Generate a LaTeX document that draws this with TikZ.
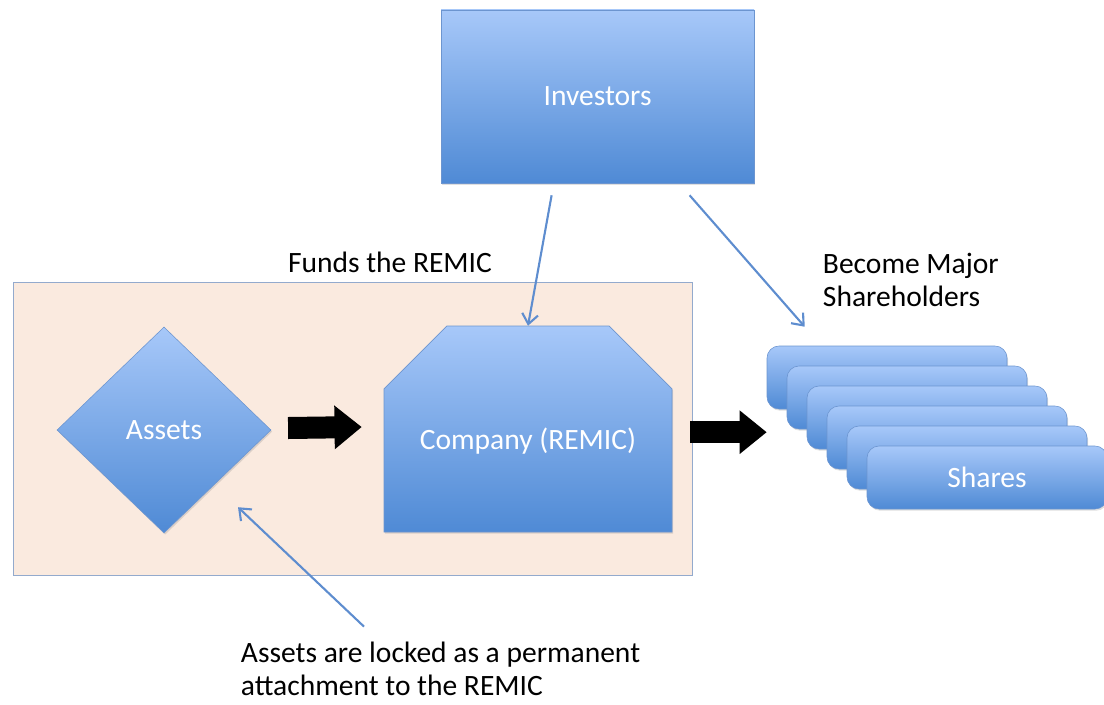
\documentclass[tikz,border=0pt]{standalone}
\usepackage{fontspec}
\setmainfont{Carlito}
\usepackage{tikz}
\usetikzlibrary{shapes.geometric, shapes.misc, arrows.meta, shadows}
\definecolor{boxtop}{HTML}{A7C8F9}
\definecolor{boxbot}{HTML}{4F8AD5}
\definecolor{boxline}{HTML}{6C95D0}
\definecolor{peach}{HTML}{FAEADF}
\definecolor{peachline}{HTML}{93AACD}
\definecolor{linkblue}{HTML}{5E8DCF}
\tikzstyle{bluebox} = [draw=boxline, top color=boxtop, bottom color=boxbot,
    text=white, font=\fontsize{21}{25}\selectfont,
    drop shadow={opacity=0.25, shadow xshift=0.8pt, shadow yshift=-1.2pt}]
\tikzstyle{sharebox} = [bluebox, rectangle, rounded corners=0.3cm,
    minimum width=6cm, minimum height=1.575cm]
\tikzstyle{blockarrow} = [draw=black, line width=0.55cm, -{Triangle[length=0.68cm, width=1.05cm]}]
\tikzstyle{thinarrow} = [draw=linkblue, line width=1.5pt, -{Straight Barb[length=2.5mm, width=4mm]}]
\tikzstyle{note} = [text=black, font=\fontsize{21}{24}\selectfont, align=left]

\begin{document}
\begin{tikzpicture}
    \useasboundingbox (0,0) rectangle (27.6,-17.6);

        % Nodes
        \node (remic) [rectangle, draw=peachline, fill=peach, minimum width=16.98cm,
            minimum height=7.33cm] at (8.81,-10.71) {};
        \node (funds) [note] at (9.75,-6.55) {Funds the REMIC};

        \node (inv) [bluebox, rectangle, minimum width=7.83cm, minimum height=4.33cm]
            at (14.94,-2.41) {Investors};

        \node (assets) [bluebox, diamond, inner sep=0pt, minimum width=5.35cm,
            minimum height=5.15cm] at (4.1,-10.75) {Assets};

        \node (comp) [bluebox, chamfered rectangle, chamfered rectangle corners={north west, north east},
            chamfered rectangle xsep=0.85cm, chamfered rectangle ysep=0.82cm,
            minimum width=7.2cm, minimum height=5.15cm] at (13.2,-10.725)
            {\rule{0pt}{1.15cm}Company (REMIC)};

        \foreach \i in {0,...,4}
            \node (sh\i) [sharebox] at (22.175+0.5*\i,-9.4375-0.5*\i) {};
        \node (sh5) [sharebox] at (24.675,-11.9375) {Shares};

        \node (major) [note, anchor=west] at (20.45,-7.0) {Become Major\\Shareholders};
        \node (locked) [note, anchor=west] at (5.9,-16.72) {Assets are locked as a permanent\\attachment to the REMIC};

        % Arrows
        \draw [blockarrow] ([xshift=0.42cm, yshift=0.05cm]assets.east) -- ([xshift=-0.55cm, yshift=0.05cm]comp.west);
        \draw [blockarrow] ([xshift=0.45cm, yshift=-0.08cm]comp.east) -- ([yshift=-0.08cm]comp.east -| sh0.west);

        \draw [thinarrow] ([xshift=-1.15cm, yshift=-0.3cm]inv.south) -- (comp.north);
        \draw [thinarrow] ([xshift=2.3cm, yshift=-0.3cm]inv.south) -- ([xshift=0.95cm, yshift=0.475cm]sh0.north west);
        \draw [thinarrow] ([xshift=3.2cm, yshift=0.25cm]locked.north west) -- ([xshift=1.85cm, yshift=-1.93cm]assets.center);

    \end{tikzpicture}
\end{document}
